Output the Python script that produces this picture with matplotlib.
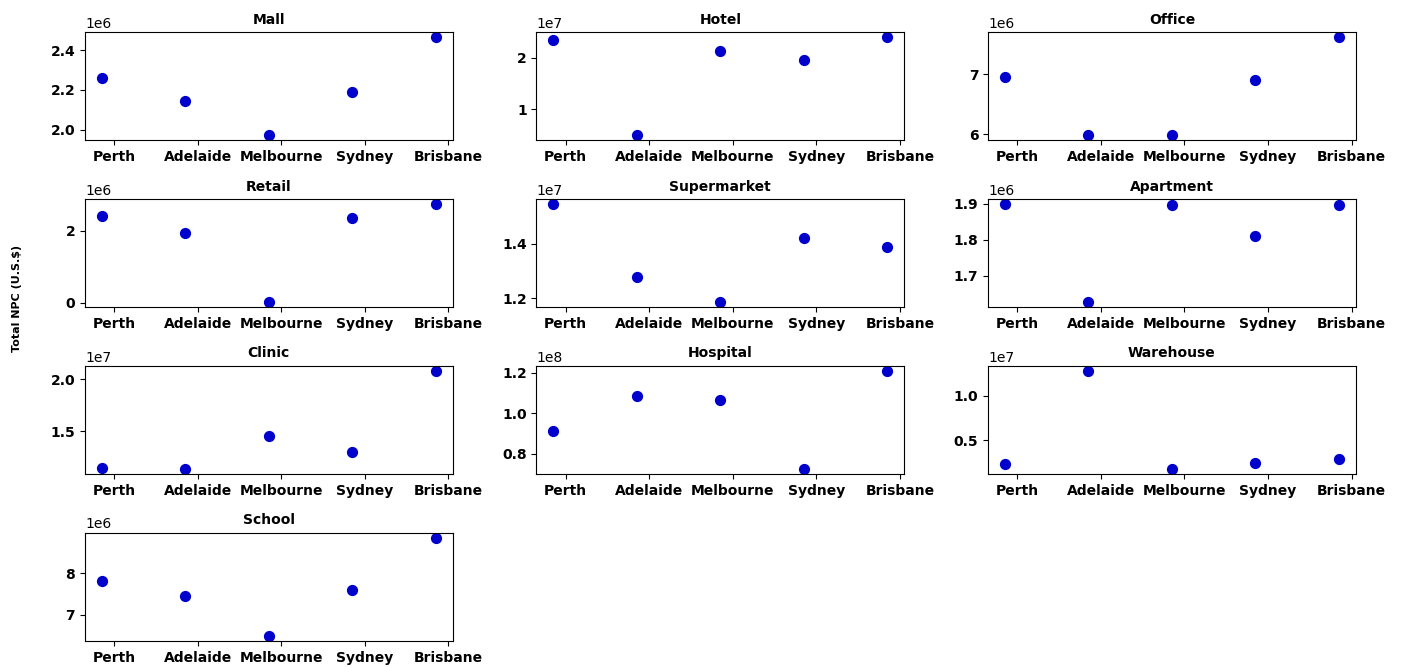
import matplotlib.pyplot as plt
import numpy as np

cities = ['Perth', 'Adelaide', 'Melbourne', 'Sydney', 'Brisbane']
building_types = ['Mall', 'Hotel', 'Office', 'Retail', 'Supermarket', 'Apartment',
                  'Clinic', 'Hospital', 'Warehouse', 'School']

# total NPC per city for each building type (U.S.$)
mall = [2.262e6, 2.143e6, 1.971e6, 2.188e6, 2.467e6]
hotel = [2.351e7, 0.487e7, 2.136e7, 1.961e7, 2.402e7]
office = [6.945e6, 5.978e6, 5.989e6, 6.895e6, 7.617e6]
retail = [2.408e6, 1.953e6, 0.01e6, 2.361e6, 2.755e6]
supermarket = [1.545e7, 1.278e7, 1.186e7, 1.419e7, 1.388e7]
apartment = [1.900e6, 1.627e6, 1.897e6, 1.812e6, 1.897e6]
clinic = [1.148e7, 1.132e7, 1.455e7, 1.294e7, 2.084e7]
hospital = [0.914e8, 1.083e8, 1.063e8, 0.724e8, 1.210e8]
warehouse = [0.224e7, 1.284e7, 0.170e7, 0.243e7, 0.281e7]
school = [7.816e6, 7.453e6, 6.484e6, 7.598e6, 8.870e6]

npc = [mall, hotel, office, retail, supermarket, apartment,
       clinic, hospital, warehouse, school]

fig, axes = plt.subplots(4, 3, figsize=(14.02, 6.67), dpi=100)
fig.subplots_adjust(left=0.0606, right=0.967, top=0.952, bottom=0.039,
                    wspace=0.228, hspace=0.54)

x = np.arange(len(cities))
for ax, name, vals in zip(axes.flat, building_types, npc):
    ax.scatter(x, vals, color='mediumblue', s=50)
    ax.set_title(name, fontsize=10, fontweight='bold')
    ax.set_xticks(x + 0.15)
    ax.set_xticklabels(cities, fontsize=10, fontweight='bold')
    for lbl in ax.get_yticklabels():
        lbl.set_fontweight('bold')
    ax.tick_params(axis='y', labelsize=10)

# unused panels in the last row
for ax in axes.flat[len(building_types):]:
    ax.axis('off')

fig.text(0.012, 0.553, 'Total NPC (U.S.$)', rotation=90, fontsize=8,
         fontweight='bold', ha='center', va='center')

plt.savefig('out.png')
